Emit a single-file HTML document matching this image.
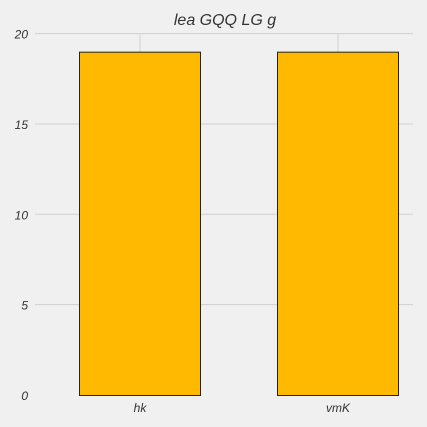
<!DOCTYPE html>
<html><head><meta charset="utf-8"><style>
body{margin:0;background:#f0f0f0;}
svg{display:block;font-family:"Liberation Sans",sans-serif;font-style:italic;}
</style></head><body>
<svg width="427" height="427" viewBox="0 0 427 427">
<rect width="427" height="427" fill="#f0f0f0"/>
<text x="225" y="25" text-anchor="middle" font-size="16" fill="#333">lea GQQ LG g</text>
<g id="grid"></g><g id="bars"></g><g id="labels"></g>
</svg>
<script>
const categories=["hk","vmK"];
const values=[19,19];
const yTicks=[0,5,10,15,20];
const ns="http://www.w3.org/2000/svg";
const x0=41,band=198,barW=122,gridL=35,gridR=413;
const y=v=>395-v*18.07;
const xc=i=>x0+band*(i+0.5);
function mk(t,a,p){const e=document.createElementNS(ns,t);for(const k in a)e.setAttribute(k,a[k]);p.appendChild(e);return e;}
const grid=document.getElementById('grid'),bars=document.getElementById('bars'),labels=document.getElementById('labels');
yTicks.forEach(t=>{
 if(t>0){const l=mk('line',{x1:gridL,x2:gridR,y1:y(t),y2:y(t),stroke:'#d0d0d0','stroke-width':1},grid);
 
 }
 const tx=mk('text',{x:28,y:y(t)+5,'text-anchor':'end','font-size':12,fill:'#333'},labels);
 tx.textContent=t;
 
 
});
categories.forEach((c,i)=>{
 const g=mk('line',{x1:xc(i),x2:xc(i),y1:y(20)+1,y2:395,stroke:'#d0d0d0','stroke-width':1},grid);
 
 
 const r=mk('rect',{x:xc(i)-barW/2+0.5,y:y(values[i])+0.5,width:barW-1,height:395-y(values[i]),fill:'#ffb900',stroke:'#222','stroke-width':1},bars);
 
 
 const t=mk('text',{x:xc(i),y:412,'text-anchor':'middle','font-size':12,fill:'#333'},labels);
 t.textContent=c;
 
 
});
</script>
</body></html>
